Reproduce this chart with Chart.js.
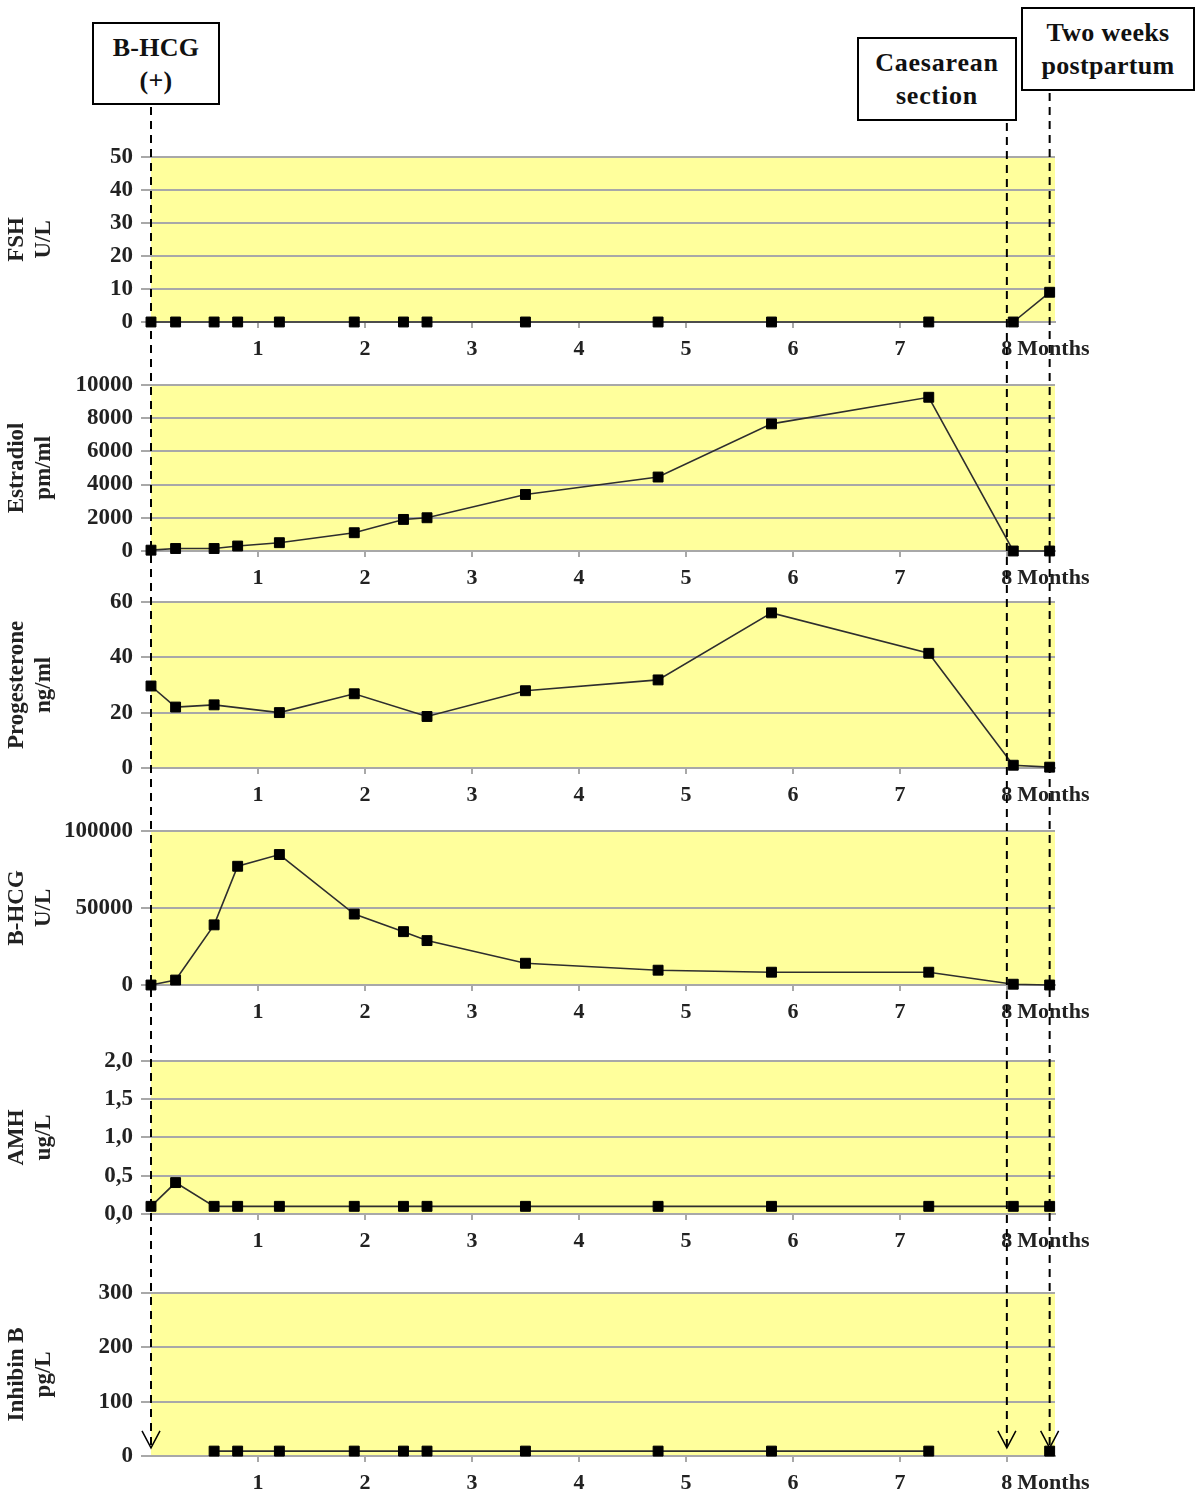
<!DOCTYPE html>
<html>
<head>
<meta charset="utf-8">
<script src="https://cdn.jsdelivr.net/npm/chart.js@4.4.0/dist/chart.umd.min.js"></script>
<style>
  body { margin: 0; background: #fff; width: 1200px; height: 1493px; position: relative; overflow: hidden; font-family: "Liberation Serif", "Times New Roman", serif; }
  canvas.panel { position: absolute; left: 0; }
  #overlay { position: absolute; left: 0; top: 0; pointer-events: none; z-index: 2; }
  .box { position: absolute; border: 2px solid #000; background: #fff; box-sizing: border-box; text-align: center; font-weight: bold; font-size: 26px; line-height: 33px; color: #111; padding-top: 7px; z-index: 3; letter-spacing: 0.3px; }
</style>
</head>
<body>
<div class="box" id="boxStart" style="left:92px;top:22px;width:128px;height:83px;">B-HCG<br>(+)</div>
<div class="box" id="boxCs" style="left:857px;top:37px;width:160px;height:84px;letter-spacing:0.8px;">Caesarean<br>section</div>
<div class="box" id="boxPp" style="left:1021px;top:7px;width:174px;height:84px;">Two weeks<br>postpartum</div>

<canvas class="panel" id="fshChart"></canvas>
<canvas class="panel" id="estradiolChart"></canvas>
<canvas class="panel" id="progesteroneChart"></canvas>
<canvas class="panel" id="bhcgChart"></canvas>
<canvas class="panel" id="amhChart"></canvas>
<canvas class="panel" id="inhibinChart"></canvas>
<canvas id="overlay" width="1200" height="1493"></canvas>

<script>
// sampling times (months after positive B-HCG)
const months = [0, 0.23, 0.59, 0.81, 1.2, 1.9, 2.36, 2.58, 3.5, 4.74, 5.8, 7.27, 8.06, 8.4];
const monthTicks = [1, 2, 3, 4, 5, 6, 7, 8];
const eventMonths = [0, 8, 8.4];

// hormone values
const fsh = [0, 0, 0, 0, 0, 0, 0, 0, 0, 0, 0, 0, 0, 9];
const estradiol = [50, 150, 150, 300, 500, 1100, 1900, 2000, 3400, 4450, 7650, 9250, 0, 0];
const progesterone = [29.6, 22, 22.8, null, 20, 26.8, null, 18.6, 27.9, 31.8, 56, 41.4, 1, 0.3];
const bhcg = [0, 3200, 39000, 77000, 84600, 46000, 34600, 28800, 14100, 9600, 8300, 8300, 500, 0];
const amh = [0.1, 0.41, 0.1, 0.1, 0.1, 0.1, 0.1, 0.1, 0.1, 0.1, 0.1, 0.1, 0.1, 0.1];
const inhibin = [null, null, 9, 9, 9, 9, 9, 9, 9, 9, 9, 9, null, 9];

const SERIF = '"Liberation Serif", "Times New Roman", serif';
Chart.defaults.font.family = SERIF;
Chart.defaults.font.weight = "bold";
Chart.defaults.color = "#222";

const GRID = "#a8a8a8";
const YELLOW = "#ffff9c";

// yellow plot area
const plotBg = {
  id: "plotBg",
  beforeDraw(chart) {
    const a = chart.chartArea;
    chart.ctx.save();
    chart.ctx.fillStyle = YELLOW;
    chart.ctx.fillRect(a.left, a.top, a.right - a.left, a.bottom - a.top);
    chart.ctx.restore();
  },
};

// "Months" next to the 8 tick
const monthsLabel = {
  id: "monthsLabel",
  afterDraw(chart) {
    const x = chart.scales.x;
    const ctx = chart.ctx;
    ctx.save();
    ctx.font = "bold 22px " + SERIF;
    ctx.fillStyle = "#222";
    ctx.textBaseline = "middle";
    ctx.textAlign = "left";
    const px = x.getPixelForValue(8) + ctx.measureText("8").width / 2 + 5;
    ctx.fillText("Months", px, x.top + 6 + 8 + 13);
    ctx.restore();
  },
};

const panels = [
  { id: "fshChart", title: ["FSH", "U/L"], data: fsh, max: 50, step: 10, top: 155, bottom: 322, gaps: true },
  { id: "estradiolChart", title: ["Estradiol", "pm/ml"], data: estradiol, max: 10000, step: 2000, top: 383, bottom: 551, gaps: true },
  { id: "progesteroneChart", title: ["Progesterone", "ng/ml"], data: progesterone, max: 60, step: 20, top: 600, bottom: 768, gaps: true },
  { id: "bhcgChart", title: ["B-HCG", "U/L"], data: bhcg, max: 100000, step: 50000, top: 829, bottom: 985, gaps: true },
  { id: "amhChart", title: ["AMH", "ug/L"], data: amh, max: 2, step: 0.5, top: 1059, bottom: 1214, gaps: true, comma: true },
  { id: "inhibinChart", title: ["Inhibin B", "pg/L"], data: inhibin, max: 300, step: 100, top: 1291, bottom: 1456, gaps: false },
];

const PAD_TOP = 15;
const TOP_EXTRA = 5; // the scale adds a few pixels above the padding
const X_AXIS_H = 40;

const charts = panels.map((p) => {
  const canvas = document.getElementById(p.id);
  canvas.width = 1200;
  canvas.height = p.bottom - p.top + PAD_TOP + TOP_EXTRA + X_AXIS_H;
  canvas.style.top = p.top - PAD_TOP - TOP_EXTRA + "px";
  return new Chart(canvas, {
    type: "line",
    data: {
      datasets: [
        {
          data: months.map((m, i) => ({ x: m, y: p.data[i] })),
          borderColor: "#2e2e2e",
          borderWidth: 1.6,
          pointStyle: "rect",
          pointRadius: 7,
          pointBackgroundColor: "#000",
          pointBorderColor: "#000",
          pointBorderWidth: 1,
          spanGaps: p.gaps,
          clip: false,
        },
      ],
    },
    options: {
      responsive: false,
      animation: false,
      layout: { padding: { top: PAD_TOP, left: 0, right: 145, bottom: 0 } },
      plugins: { legend: { display: false }, tooltip: { enabled: false } },
      scales: {
        x: {
          type: "linear",
          min: 0,
          max: 8.45,
          afterBuildTicks: (s) => { s.ticks = monthTicks.map((v) => ({ value: v })); },
          afterFit: (s) => { s.height = X_AXIS_H; },
          ticks: { padding: 8, font: { size: 22 }, maxRotation: 0, callback: (v) => v },
          grid: { drawOnChartArea: false, drawTicks: true, tickLength: 6, color: GRID, lineWidth: 2 },
          border: { display: true, color: GRID, width: 2 },
        },
        y: {
          min: 0,
          max: p.max,
          afterFit: (s) => { s.width = 151; },
          ticks: {
            stepSize: p.step,
            padding: 8,
            font: { size: 23 },
            callback: (v) => (p.comma ? v.toFixed(1).replace(".", ",") : v),
          },
          grid: { color: GRID, lineWidth: 2, tickLength: 10 },
          border: { display: false },
          title: { display: true, text: p.title, font: { size: 23, weight: "bold" }, padding: { top: 3 }, color: "#222" },
        },
      },
    },
    plugins: [plotBg, monthsLabel],
  });
});

// dashed event lines from the boxes down to the last panel
const octx = document.getElementById("overlay").getContext("2d");
const first = charts[0];
const last = charts[charts.length - 1];
const tipY = last.canvas.offsetTop + last.scales.y.getPixelForValue(15);
["boxStart", "boxCs", "boxPp"].forEach((id, i) => {
  const box = document.getElementById(id);
  const x = first.scales.x.getPixelForValue(eventMonths[i]);
  const y0 = box.offsetTop + box.offsetHeight + 2;
  octx.save();
  octx.strokeStyle = "#000";
  octx.lineWidth = 2;
  octx.setLineDash([8, 6]);
  octx.beginPath();
  octx.moveTo(x, y0);
  octx.lineTo(x, tipY);
  octx.stroke();
  octx.setLineDash([]);
  octx.lineWidth = 1.5;
  octx.beginPath();
  octx.moveTo(x - 9, tipY - 17);
  octx.lineTo(x, tipY);
  octx.lineTo(x + 9, tipY - 17);
  octx.stroke();
  octx.restore();
});
</script>
</body>
</html>
